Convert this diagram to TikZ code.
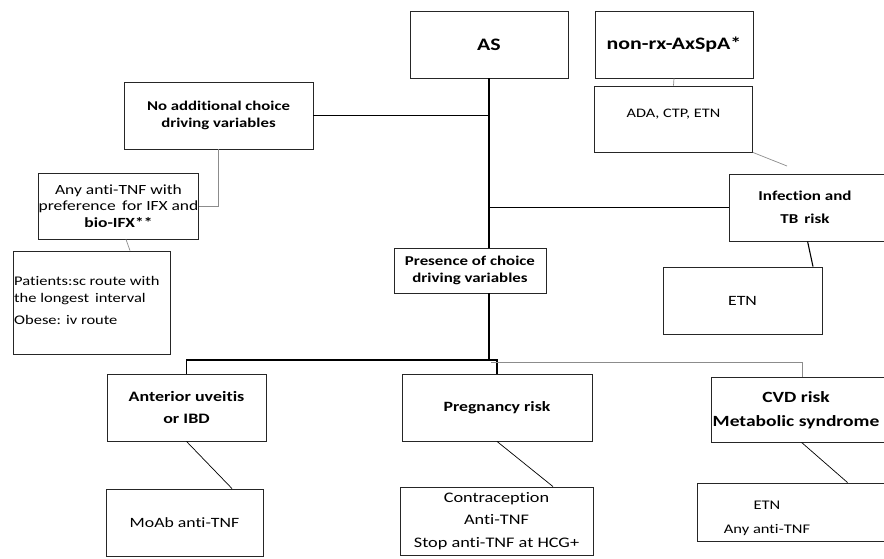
\documentclass[tikz,border=0pt]{standalone}
\usepackage{fontspec}
\setmainfont{Carlito}[FakeStretch=1.25,Ligatures=NoCommon]
\begin{document}
\begin{tikzpicture}[x=1pt,y=-1pt,
  box/.style={draw=black!85, line width=0.85pt, fill=white, inner sep=0pt, align=center},
  txt/.style={inner sep=0pt, align=center},
  mainline/.style={draw=black, line width=1.4pt},
  thinline/.style={draw=black, line width=0.7pt},
  grayline/.style={draw=black!45, line width=0.7pt}]
\useasboundingbox (0,0) rectangle (884,558);

\coordinate (j1) at (489,360);
\coordinate (j1g) at (491,362);

% top level
\node[box, minimum width=158pt, minimum height=67pt, font=\fontsize{17.5}{21}\selectfont\bfseries] (AS) at (489,44.5) {AS};
\node[box, minimum width=158pt, minimum height=67pt, font=\fontsize{17.5}{21}\selectfont\bfseries] (NRX) at (674,44.5) {non-rx-AxSpA*};
\node[box, minimum width=158pt, minimum height=66pt] (ADA) at (673.5,119) {};
\node[txt, font=\fontsize{13}{16}\selectfont] (ADAt) at (673.5,114) {ADA, CTP, ETN};

% left branch
\node[box, minimum width=189pt, minimum height=67pt, font=\fontsize{13.4}{16.7}\selectfont\bfseries] (NoAdd) at (218.5,115.5) {No additional choice\\driving variables};
\node[box, minimum width=153pt, minimum height=66pt, font=\fontsize{14}{16.7}\selectfont] (Any) at (118.5,206) {Any anti-TNF with\\preference\, for IFX and\\\textbf{bio-IFX**}};
\node[box, minimum width=157pt, minimum height=103pt] (Pat) at (91.5,302.5) {};
\node[txt, anchor=north west, align=left, font=\fontsize{13.2}{17}\selectfont] (Patt) at (14,276.5) {Patients:sc route with\\the longest\, interval\\[5pt]Obese: iv route};

% right branch
\node[box, minimum width=170pt, minimum height=67pt] (Inf) at (814,207.5) {};
\node[txt, font=\fontsize{13.6}{23}\selectfont\bfseries] (Inft) at (805,207.5) {Infection and\\TB\, risk};
\node[box, minimum width=159pt, minimum height=67pt, font=\fontsize{14.2}{17}\selectfont] (ETN) at (742.5,300.5) {ETN};

% presence
\node[box, minimum width=152pt, minimum height=45pt, font=\fontsize{13.5}{17}\selectfont\bfseries] (Pres) at (470,270.5) {Presence of choice\\driving variables};

% bottom row
\node[box, minimum width=159pt, minimum height=67pt, font=\fontsize{14.4}{22}\selectfont\bfseries] (Ant) at (186.5,407.5) {Anterior uveitis\\or IBD};
\node[box, minimum width=157pt, minimum height=67pt, font=\fontsize{14.2}{17}\selectfont] (MoAb) at (184.5,522.5) {MoAb anti-TNF};
\node[box, minimum width=190pt, minimum height=67pt, font=\fontsize{14.2}{17}\selectfont\bfseries] (Preg) at (497,407.5) {Pregnancy risk};
\node[box, minimum width=193pt, minimum height=68pt, font=\fontsize{14.6}{22.5}\selectfont] (Con) at (496.5,521) {Contraception\\Anti-TNF\\Stop anti-TNF at HCG+};
\node[box, minimum width=190pt, minimum height=65pt] (CVD) at (806,409.5) {};
\node[txt, font=\fontsize{15.6}{24}\selectfont\bfseries] (CVDt) at (796,410.5) {CVD risk\\Metabolic syndrome};
\node[box, minimum width=200pt, minimum height=58pt] (EA) at (797,512) {};
\node[txt, font=\fontsize{13.2}{24}\selectfont] (EAt) at (767,518) {ETN\\Any anti-TNF};

% connectors
\path[mainline] (AS.south) -- (AS.south |- Pres.north);
\path[mainline] (AS.south |- Pres.south) -- (j1);
\path[thinline, line width=1.1pt] (AS.south |- NoAdd.east) -- (NoAdd.east);
\path[thinline, line width=1.1pt] (AS.south |- Inf.west) -- (Inf.west);
\path[thinline, line width=1.1pt] (j1) -| (Ant.north);
\path[thinline, line width=1.1pt] (j1) -| (Preg.north);
\path[grayline] (j1g) -| ([xshift=92pt]CVD.north west);
\path[grayline] (NRX.south) -- (ADA.north);
\coordinate (adaend) at (787,166);
\path[grayline] (ADA.south east) -- (adaend);
\path[grayline] (NoAdd.south) |- (Any.east);
\path[grayline] ([xshift=7.5pt]Any.south) -- ([xshift=38.5pt]Pat.north);
\path[thinline, line width=1.1pt] ([xshift=79pt]Inf.south west) -- ([xshift=70.5pt]ETN.north);
\path[thinline] (Ant.south) -- ([xshift=47.5pt]MoAb.north);
\path[thinline] (Preg.south) -- ([xshift=56.5pt]Con.north);
\path[thinline] ([xshift=91pt]CVD.south west) -- ([xshift=151pt]EA.north west);
\end{tikzpicture}
\end{document}
